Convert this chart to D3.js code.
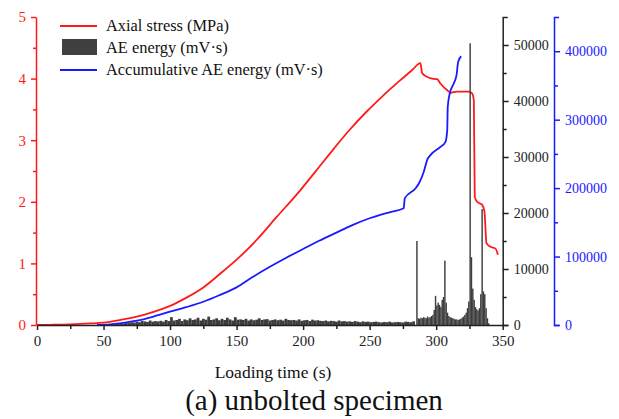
<html>
<head>
<style>
  body { margin: 0; background: #fff; }
  svg text { font-family: "Liberation Serif", "Times New Roman", Times, serif; }
</style>
</head>
<body>
<svg id="chart" width="619" height="419"></svg>
<script src="https://d3js.org/d3.v7.min.js"></script>
<script>
// axial stress (MPa) vs loading time (s)
var stressT = [0, 10, 25, 40, 50, 62, 75, 87, 100, 112, 125, 137, 150, 165, 180, 198, 210, 223, 235, 248, 258, 266, 275, 282, 288.2, 289.4, 293, 297, 300.7, 303.2, 308.3, 310.8, 315.8, 320, 324.5, 327, 328.3, 329, 330.8, 334.6, 336.3, 337.8, 340.8, 344.6, 346.4];
var stressV = [0, 0.003, 0.01, 0.025, 0.04, 0.08, 0.135, 0.21, 0.31, 0.44, 0.61, 0.82, 1.06, 1.38, 1.75, 2.19, 2.51, 2.86, 3.17, 3.47, 3.68, 3.84, 4.01, 4.14, 4.25, 4.09, 4.03, 4.0, 3.99, 3.92, 3.81, 3.77, 3.79, 3.79, 3.79, 3.76, 3.65, 2.08, 2.0, 1.95, 1.84, 1.33, 1.27, 1.24, 1.14];

// accumulative AE energy (mV.s)
var accT = [45, 55, 62, 75, 87, 100, 112, 125, 137, 150, 162, 175, 187, 200, 212, 225, 237, 250, 258, 265.6, 275.6, 276.4, 284.4, 287, 290.7, 293.2, 295.7, 303.2, 307, 308.3, 308.7, 310.2, 313.2, 315.3, 316.5, 318.8];
var accV = [0, 1000, 2500, 6300, 12000, 19400, 26000, 34000, 43500, 55000, 70000, 85000, 98000, 111000, 123000, 135000, 146000, 156000, 161000, 165000, 170500, 185000, 199500, 206800, 223800, 240900, 248200, 260300, 267600, 284700, 318700, 338200, 352800, 365000, 384400, 392700];

// AE energy, 2 s bins from 56 s to 286 s
var aeBaseStart = 56;
var aeBase = [100, 150,
  200, 300, 250, 400, 350, 500,
  450, 600, 500, 700, 650, 550, 800, 600, 700, 650,
  750, 600, 900, 700, 1400, 800, 900, 1100, 700, 1000,
  850, 1200, 900, 1000, 1300, 800, 1100, 950, 1500, 900,
  1000, 1200, 850, 1100, 900, 1300, 1000, 800, 1400, 950,
  1000, 900, 1100, 800, 1000, 850, 950, 1200, 900, 1000,
  1050, 800, 900, 1000, 850, 950, 800, 1100, 900, 850,
  900, 800, 1000, 750, 850, 900, 700, 950, 800, 850,
  750, 700, 800, 650, 750, 700, 600, 800, 650, 700,
  600, 650, 550, 700, 600, 500, 650, 550, 600, 500,
  550, 600, 500, 450, 550, 500, 600, 450, 500, 550,
  500, 450, 600, 550, 500, 650];
// AE energy, 1 s bins from 285 s to 339 s
var aeActStart = 285;
var aeAct = [15000, 1200, 1100, 1300, 1200, 1400, 1300, 1200, 1500, 1300,
  1400, 1600, 1800, 2700, 5200, 3500, 4000, 3600, 3200, 4500,
  5000, 11500, 4000, 2200, 1600, 1400, 1300, 1200, 1100, 1000,
  1000, 900, 1000, 1100, 1300, 1500, 1800, 2200, 3000, 4200,
  50300, 12100, 6500, 4500, 3200, 2800, 2600, 3000, 5500, 20700,
  6000, 5500, 3000, 1200, 300];

var xTicks = [0, 50, 100, 150, 200, 250, 300, 350];
var xMinor = [25, 75, 125, 175, 225, 275, 325];
var stressTicks = [0, 1, 2, 3, 4, 5];
var stressMinor = [0.5, 1.5, 2.5, 3.5, 4.5];
var aeTicks = [0, 10000, 20000, 30000, 40000, 50000];
var aeMinor = [5000, 15000, 25000, 35000, 45000];
var accTicks = [0, 100000, 200000, 300000, 400000];
var accMinor = [50000, 150000, 250000, 350000];

var svg = d3.select("#chart");
svg.append("rect").attr("width", 619).attr("height", 419).attr("fill", "white");

var x = d3.scaleLinear().domain([0, 350]).range([37, 502.7]);
var yS = d3.scaleLinear().domain([0, 5]).range([325, 17]);
var yE = d3.scaleLinear().domain([0, 55000]).range([325, 17]);
var yA = d3.scaleLinear().domain([0, 450000]).range([325, 17]);

var red = "#ff1a1a", blue = "#1a1aff";
var plain = d3.format("d");

// stress line
var stressData = stressT.map(function(t, i) { return [t, stressV[i]]; });
svg.append("path")
  .datum(stressData)
  .attr("fill", "none").attr("stroke", red).attr("stroke-width", 1.8)
  .attr("d", d3.line().x(function(d) { return x(d[0]); }).y(function(d) { return yS(d[1]); }).curve(d3.curveMonotoneX));

// AE energy bars
var bars = [];
aeBase.forEach(function(v, i) { bars.push({t: aeBaseStart + i * 2, w: 2, v: v}); });
aeAct.forEach(function(v, i) { bars.push({t: aeActStart + i, w: 1, v: v}); });
svg.append("g").selectAll("rect").data(bars).enter().append("rect")
  .attr("x", function(d) { return x(d.t); })
  .attr("width", function(d) { return x(d.t + d.w) - x(d.t) + 0.1; })
  .attr("y", function(d) { return yE(d.v); })
  .attr("height", function(d) { return yE(0) - yE(d.v); })
  .attr("fill", "#3d3d3d");

// accumulative line
var accData = accT.map(function(t, i) { return [t, accV[i]]; });
svg.append("path")
  .datum(accData)
  .attr("fill", "none").attr("stroke", blue).attr("stroke-width", 1.8)
  .attr("d", d3.line().x(function(d) { return x(d[0]); }).y(function(d) { return yA(d[1]); }).curve(d3.curveMonotoneX));

// axes
function styleAxis(g, color, size) {
  g.attr("font-family", null).attr("font-size", size);
  g.selectAll("path, line").attr("stroke", color).attr("stroke-width", 1.5);
  g.selectAll("text").attr("fill", color);
}

var gx = svg.append("g").attr("transform", "translate(0,325)")
  .call(d3.axisBottom(x).tickValues(xTicks).tickFormat(plain).tickSize(5).tickSizeOuter(0).tickPadding(5));
styleAxis(gx, "#222", 15);
svg.append("g").attr("transform", "translate(0,325)")
  .call(d3.axisBottom(x).tickValues(xMinor).tickSize(4).tickFormat(""))
  .call(function(g) { g.select(".domain").remove(); styleAxis(g, "#222", 15); });

var gl = svg.append("g").attr("transform", "translate(36,0)")
  .call(d3.axisLeft(yS).tickValues(stressTicks).tickFormat(plain).tickSize(5).tickSizeOuter(0).tickPadding(5));
styleAxis(gl, red, 15);
svg.append("g").attr("transform", "translate(36,0)")
  .call(d3.axisLeft(yS).tickValues(stressMinor).tickSize(3).tickFormat(""))
  .call(function(g) { g.select(".domain").remove(); styleAxis(g, red, 15); });

var ge = svg.append("g").attr("transform", "translate(502.7,0)")
  .call(d3.axisRight(yE).tickValues(aeTicks).tickFormat(plain).tickSize(6).tickSizeOuter(5).tickPadding(5));
styleAxis(ge, "#222", 14);
svg.append("g").attr("transform", "translate(502.7,0)")
  .call(d3.axisRight(yE).tickValues(aeMinor).tickSize(4).tickFormat(""))
  .call(function(g) { g.select(".domain").remove(); styleAxis(g, "#222", 14); });

var ga = svg.append("g").attr("transform", "translate(554,0)")
  .call(d3.axisRight(yA).tickValues(accTicks).tickFormat(plain).tickSize(6).tickSizeOuter(5).tickPadding(5));
styleAxis(ga, blue, 14);
svg.append("g").attr("transform", "translate(554,0)")
  .call(d3.axisRight(yA).tickValues(accMinor).tickSize(4).tickFormat(""))
  .call(function(g) { g.select(".domain").remove(); styleAxis(g, blue, 14); });

// legend
var lg = svg.append("g").attr("font-size", 16.4).attr("fill", "#111");
lg.append("line").attr("x1", 60).attr("x2", 97).attr("y1", 26).attr("y2", 26).attr("stroke", red).attr("stroke-width", 1.8);
lg.append("text").attr("x", 106).attr("y", 31).text("Axial stress (MPa)");
lg.append("rect").attr("x", 62).attr("y", 39).attr("width", 35).attr("height", 16).attr("fill", "#404040");
lg.append("text").attr("x", 106).attr("y", 53).text("AE energy (mV\u00b7s)");
lg.append("line").attr("x1", 60).attr("x2", 97).attr("y1", 70).attr("y2", 70).attr("stroke", blue).attr("stroke-width", 1.8);
lg.append("text").attr("x", 106).attr("y", 75).text("Accumulative AE energy (mV\u00b7s)");

svg.append("text").attr("x", 273).attr("y", 378).attr("text-anchor", "middle")
  .attr("font-size", 17.5).attr("fill", "#111").text("Loading time (s)");
svg.append("text").attr("x", 314).attr("y", 410).attr("text-anchor", "middle")
  .attr("font-size", 29).attr("fill", "#111").text("(a) unbolted specimen");
</script>
</body>
</html>
